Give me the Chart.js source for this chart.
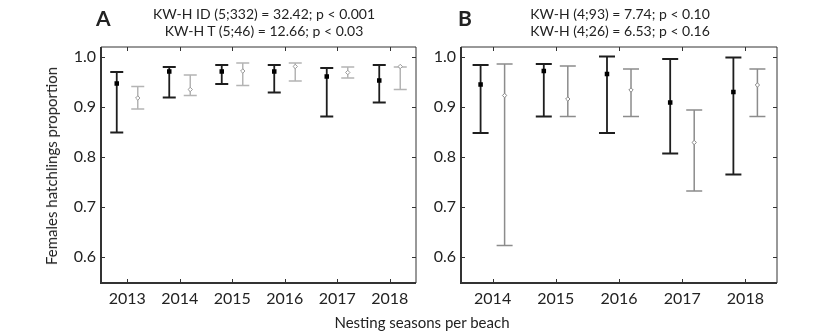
<!DOCTYPE html>
<html>
<head>
<meta charset="utf-8">
<script src="https://cdn.jsdelivr.net/npm/chart.js@4.4.1/dist/chart.umd.min.js"></script>
<style>
  body { margin: 0; background: #fff; }
  #wrap { position: relative; width: 825px; height: 336px; font-family: Lato, sans-serif; color: #222; }
  .box { position: absolute; top: 0; }
  .txt { position: absolute; white-space: nowrap; }
  .note { font-size: 14px; text-align: center; line-height: 17px; }
  .panel { font-size: 21px; font-weight: bold; }
</style>
</head>
<body>
<div id="wrap">
  <div class="box" style="left:0;width:425px;height:336px"><canvas id="chartA" width="425" height="336"></canvas></div>
  <div class="box" style="left:425px;width:400px;height:336px"><canvas id="chartB" width="400" height="336"></canvas></div>

  <div class="txt panel" style="left:96px;top:5px">A</div>
  <div class="txt panel" style="left:458px;top:5px">B</div>
  <div class="txt note" style="left:264px;top:5px;transform:translateX(-50%)">KW-H ID (5;332) = 32.42; p &lt; 0.001<br>KW-H T (5;46) = 12.66; p &lt; 0.03</div>
  <div class="txt note" style="left:620px;top:5px;transform:translateX(-50%)">KW-H (4;93) = 7.74; p &lt; 0.10<br>KW-H (4;26) = 6.53; p &lt; 0.16</div>
  <div class="txt" style="left:51px;top:166px;font-size:15px;transform:translate(-50%,-50%) rotate(-90deg)">Females hatchlings proportion</div>
  <div class="txt" style="left:422px;top:322px;font-size:15px;transform:translate(-50%,-50%)">Nesting seasons per beach</div>
</div>

<script>
// --- data panel A ---
const yearsA = [2013, 2014, 2015, 2016, 2017, 2018];
const idMeanA = [0.947, 0.971, 0.971, 0.971, 0.961, 0.953];
const idLowA  = [0.849, 0.919, 0.946, 0.929, 0.881, 0.909];
const idHighA = [0.970, 0.980, 0.984, 0.984, 0.978, 0.984];
const tMeanA  = [0.918, 0.935, 0.972, 0.981, 0.969, 0.981];
const tLowA   = [0.896, 0.923, 0.943, 0.952, 0.958, 0.935];
const tHighA  = [0.941, 0.964, 0.988, 0.988, 0.980, 0.980];

// --- data panel B ---
const yearsB = [2014, 2015, 2016, 2017, 2018];
const idMeanB = [0.945, 0.972, 0.966, 0.909, 0.930];
const idLowB  = [0.848, 0.881, 0.848, 0.807, 0.765];
const idHighB = [0.984, 0.986, 1.001, 0.996, 0.999];
const tMeanB  = [0.923, 0.916, 0.934, 0.829, 0.944];
const tLowB   = [0.623, 0.881, 0.881, 0.732, 0.881];
const tHighB  = [0.986, 0.982, 0.976, 0.894, 0.976];

const yTicks = [0.6, 0.7, 0.8, 0.9, 1.0];

Chart.defaults.font.family = 'Lato, sans-serif';
Chart.defaults.color = '#222';

// draws whiskers from the dataset's errLow / errHigh arrays
const errorBars = {
    id: 'errorBars',
    beforeDatasetsDraw(chart) {
        const ctx = chart.ctx;
        const xs = chart.scales.x, ys = chart.scales.y;
        chart.data.datasets.forEach(ds => {
            ctx.save();
            ctx.strokeStyle = ds.barColor;
            ctx.lineWidth = ds.barWidth;
            ds.data.forEach((p, i) => {
                const x = xs.getPixelForValue(p.x);
                const yl = ys.getPixelForValue(ds.errLow[i]);
                const yh = ys.getPixelForValue(ds.errHigh[i]);
                const c = ds.capHalf;
                ctx.beginPath();
                ctx.moveTo(x, yl); ctx.lineTo(x, yh);
                ctx.moveTo(x - c, yl); ctx.lineTo(x + c, yl);
                ctx.moveTo(x - c, yh); ctx.lineTo(x + c, yh);
                ctx.stroke();
            });
            ctx.restore();
        });
    }
};

// box frame with inward tick marks
const frame = {
    id: 'frame',
    afterDraw(chart) {
        const ctx = chart.ctx;
        const a = chart.chartArea;
        const xs = chart.scales.x, ys = chart.scales.y;
        ctx.save();
        ctx.strokeStyle = '#333';
        ctx.lineWidth = 1;
        ctx.beginPath();
        ctx.moveTo(a.left, a.top); ctx.lineTo(a.right, a.top); ctx.lineTo(a.right, a.bottom);
        xs.ticks.forEach(t => {
            const x = Math.round(xs.getPixelForValue(t.value)) + 0.5;
            ctx.moveTo(x, a.top); ctx.lineTo(x, a.top + 4);
            ctx.moveTo(x, a.bottom); ctx.lineTo(x, a.bottom - 4);
        });
        ys.ticks.forEach(t => {
            const y = Math.round(ys.getPixelForValue(t.value)) + 0.5;
            ctx.moveTo(a.left, y); ctx.lineTo(a.left + 4, y);
            ctx.moveTo(a.right, y); ctx.lineTo(a.right - 4, y);
        });
        ctx.stroke();
        ctx.lineWidth = 2;
        ctx.beginPath();
        ctx.moveTo(a.left, a.top); ctx.lineTo(a.left, a.bottom); ctx.lineTo(a.right, a.bottom);
        ctx.stroke();
        ctx.restore();
    }
};

function makeSeries(years, mean, low, high, shift, opts) {
    return Object.assign({
        data: years.map((yr, i) => ({ x: yr + shift, y: mean[i] })),
        errLow: low,
        errHigh: high
    }, opts);
}

function makeChart(id, years, series, yWidth, padRight) {
    return new Chart(document.getElementById(id), {
        type: 'scatter',
        data: { datasets: series },
        options: {
            responsive: false,
            animation: false,
            layout: { padding: { top: 47, right: padRight, left: 0, bottom: 0 } },
            plugins: { legend: { display: false }, tooltip: { enabled: false } },
            scales: {
                x: {
                    type: 'linear',
                    min: years[0] - 0.5,
                    max: years[years.length - 1] + 0.5,
                    afterBuildTicks: s => { s.ticks = years.map(v => ({ value: v })); },
                    afterFit: s => { s.height = 53; },
                    grid: { display: false, drawTicks: false },
                    border: { display: false },
                    ticks: { padding: 6, font: { size: 16 }, callback: v => String(v) }
                },
                y: {
                    min: 0.548,
                    max: 1.02,
                    afterBuildTicks: s => { s.ticks = yTicks.map(v => ({ value: v })); },
                    afterFit: s => { s.width = yWidth; },
                    grid: { display: false, drawTicks: false },
                    border: { display: false },
                    ticks: { padding: 5, font: { size: 16 }, callback: v => v.toFixed(1) }
                }
            }
        },
        plugins: [errorBars, frame]
    });
}

const blackStyle = {
    barColor: '#1e1e1e', barWidth: 1.8,
    pointStyle: 'rect', pointRadius: 3.2,
    backgroundColor: '#000', borderColor: '#000', borderWidth: 0
};

makeChart('chartA', yearsA, [
    makeSeries(yearsA, idMeanA, idLowA, idHighA, -0.2, Object.assign({ capHalf: 6.5 }, blackStyle)),
    makeSeries(yearsA, tMeanA, tLowA, tHighA, 0.2, {
        barColor: '#b4b4b4', barWidth: 1.5, capHalf: 6.5,
        pointStyle: 'rectRot', pointRadius: 2.2,
        backgroundColor: '#fff', borderColor: '#999', borderWidth: 1
    })
], 101, 9);

makeChart('chartB', yearsB, [
    makeSeries(yearsB, idMeanB, idLowB, idHighB, -0.19, Object.assign({ capHalf: 8 }, blackStyle)),
    makeSeries(yearsB, tMeanB, tLowB, tHighB, 0.19, {
        barColor: '#8c8c8c', barWidth: 1.5, capHalf: 8,
        pointStyle: 'rectRot', pointRadius: 2.2,
        backgroundColor: '#fff', borderColor: '#888', borderWidth: 1
    })
], 36, 48);
</script>
</body>
</html>
